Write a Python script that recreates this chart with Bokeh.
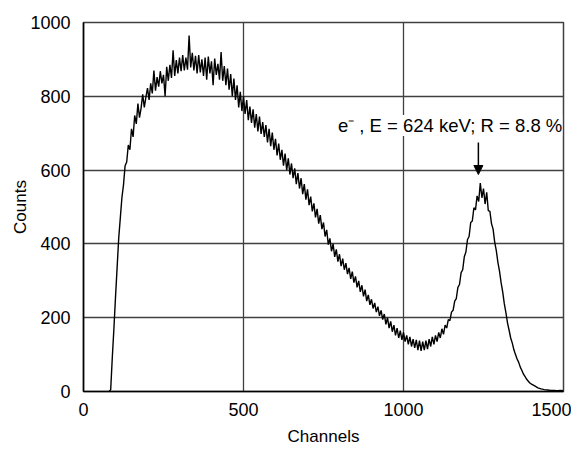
from bokeh.plotting import figure
from bokeh.models import Range1d, FixedTicker, Label, Arrow, NormalHead, ColumnDataSource
from bokeh.embed import file_html
from bokeh.resources import INLINE

# Spectrum (channel, counts)
channels = list(range(80, 1405, 5)) + list(range(1410, 1510, 10))
counts = [
    0, 5, 92, 170, 255, 335, 415, 470, 525, 560,
    612, 622, 668, 655, 712, 690, 748, 725, 780, 742,
    768, 805, 770, 798, 822, 790, 835, 808, 870, 815,
    852, 826, 868, 835, 858, 800, 880, 842, 885, 850,
    925, 855, 898, 862, 905, 868, 912, 870, 905, 872,
    965, 878, 918, 870, 910, 862, 912, 865, 900, 855,
    905, 845, 908, 862, 895, 830, 902, 858, 888, 845,
    920, 842, 882, 830, 875, 818, 860, 800, 848, 790,
    830, 770, 812, 760, 800, 752, 790, 735, 772, 728,
    765, 715, 752, 705, 745, 698, 730, 690, 722, 675,
    712, 665, 702, 655, 685, 640, 672, 628, 655, 612,
    645, 600, 632, 588, 618, 578, 605, 562, 592, 550,
    578, 535, 562, 520, 548, 505, 528, 488, 510, 472,
    495, 455, 478, 440, 458, 420, 438, 398, 415, 380,
    400, 365, 385, 352, 372, 340, 360, 330, 348, 318,
    335, 305, 325, 295, 312, 282, 300, 270, 288, 258,
    276, 245, 262, 235, 250, 225, 240, 215, 230, 205,
    220, 195, 210, 182, 200, 172, 190, 162, 180, 152,
    172, 145, 165, 140, 160, 135, 152, 128, 148, 122,
    142, 118, 140, 112, 138, 110, 135, 112, 138, 115,
    142, 122, 148, 128, 152, 135, 160, 145, 170, 155,
    180, 172, 195, 192, 215, 220, 245, 252, 282, 290,
    322, 330, 365, 378, 412, 420, 458, 462, 498, 492,
    530, 515, 565, 525, 550, 508, 540, 490, 488, 455,
    440, 405, 382, 350, 326, 295, 270, 238, 214, 186,
    166, 145, 131, 113, 100, 88, 79, 66, 57, 47,
    40, 33, 28, 23, 20,
    15, 10, 7, 5, 4, 3, 3, 2, 3, 2,
]
n = min(len(channels), len(counts))
channels = channels[:n]
counts = counts[:n]

x_ticks = [0, 500, 1000, 1500]
y_ticks = [0, 200, 400, 600, 800, 1000]

annotation_text = "e\u207b , E = 624 keV; R = 8.8 %"
annotation_x = 795
annotation_y = 721
arrow_x = 1234
arrow_top = 675
arrow_tip = 588

FONT = "Liberation Sans"

p = figure(width=571, height=448, output_backend="svg", toolbar_location=None,
           x_range=Range1d(0, 1500), y_range=Range1d(0, 1000),
           min_border_left=83, min_border_right=8, min_border_top=22, min_border_bottom=57)

src = ColumnDataSource(dict(x=channels, y=counts))
p.line("x", "y", source=src, line_color="black", line_width=1.4)

p.xaxis.ticker = FixedTicker(ticks=x_ticks)
p.yaxis.ticker = FixedTicker(ticks=y_ticks)
for ax in (p.xaxis[0], p.yaxis[0]):
    ax.major_tick_line_color = None
    ax.minor_tick_line_color = None
    ax.axis_line_color = "black"
    ax.axis_line_width = 1.5
    ax.major_label_text_font = FONT
    ax.major_label_text_font_size = "18px"
    ax.major_label_text_color = "black"
    ax.axis_label_text_font = FONT
    ax.axis_label_text_font_size = "17px"
    ax.axis_label_text_font_style = "normal"
    ax.axis_label_text_color = "black"
p.xaxis.axis_label = "Channels"
p.yaxis.axis_label = "Counts"
p.xaxis.major_label_standoff = 5
p.yaxis.major_label_standoff = 7
p.xaxis.axis_label_standoff = 8
p.yaxis.axis_label_standoff = -3

p.xgrid.ticker = FixedTicker(ticks=x_ticks)
p.ygrid.ticker = FixedTicker(ticks=y_ticks)
for g in (p.xgrid[0], p.ygrid[0]):
    g.grid_line_color = "#404040"
    g.grid_line_width = 1.3
p.outline_line_color = "#404040"
p.outline_line_width = 1.5
p.background_fill_color = "white"
p.border_fill_color = "white"

lbl = Label(x=annotation_x, y=annotation_y, text=annotation_text,
            text_font=FONT, text_font_size="18.5px", text_color="black",
            text_baseline="middle", text_align="left",
            background_fill_color="white", background_fill_alpha=1.0)
p.add_layout(lbl)

arr = Arrow(end=NormalHead(size=9, fill_color="black", line_color="black"),
            x_start=arrow_x, y_start=arrow_top, x_end=arrow_x, y_end=arrow_tip,
            line_color="black", line_width=1.5)
p.add_layout(arr)

open("out.html", "w").write(file_html(p, INLINE))
